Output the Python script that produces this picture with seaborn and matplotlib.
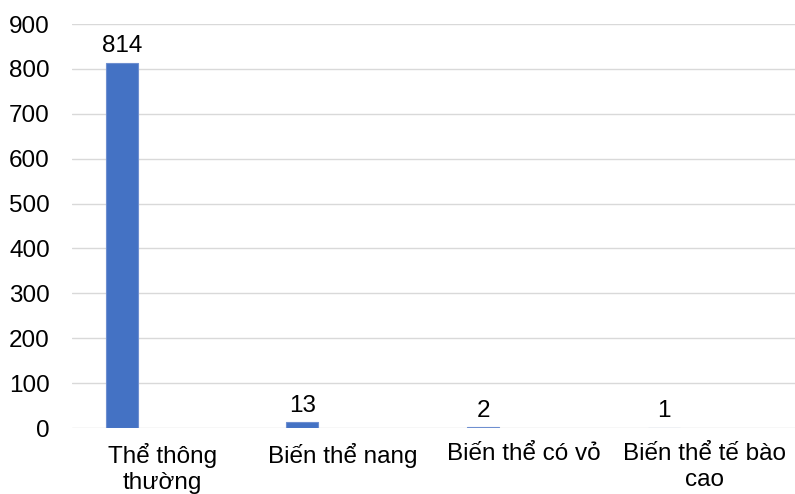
import matplotlib
matplotlib.use("Agg")
import matplotlib.pyplot as plt
import seaborn as sns
import pandas as pd
import numpy as np

categories = ["Thể thông\nthường", "Biến thể nang", "Biến thể có vỏ", "Biến thể tế bào\ncao"]
counts = [814, 13, 2, 1]
series = ["Số ca", " "]
y_ticks = [0, 100, 200, 300, 400, 500, 600, 700, 800, 900]

sns.set_theme(style="white")
plt.rcParams["font.family"] = ["Liberation Sans", "DejaVu Sans"]

df = pd.DataFrame({
    "cat": categories * 2,
    "series": [series[0]] * len(categories) + [series[1]] * len(categories),
    "value": counts + [np.nan] * len(categories),
})

fig = plt.figure(figsize=(7.95, 4.94), dpi=100)
ax = fig.add_axes([0.0906, 0.1336, 0.9094, 0.8178])

sns.barplot(data=df, x="cat", y="value", hue="series", hue_order=series,
            order=categories, palette=["#4472C4", "#4472C4"], width=0.9, gap=0.607,
            legend=False, ax=ax, errorbar=None, saturation=1,
            edgecolor="#6E8FD0", linewidth=0.8)

for c in ax.containers:
    labels = ["" if np.isnan(v) else f"{int(v)}" for v in c.datavalues]
    ax.bar_label(c, labels=labels, padding=4, fontsize=17.5, color="#000000")

ax.set_ylim(0, 900)
ax.set_yticks(y_ticks)
ax.set_xlim(-0.5, len(categories) - 0.5)
ax.yaxis.grid(True, color="#D9D9D9", linewidth=1)
ax.set_axisbelow(True)
for s in ax.spines.values():
    s.set_visible(False)
ax.tick_params(axis="both", length=0, labelsize=17.5, colors="#000000")
ax.tick_params(axis="y", pad=16)
ax.tick_params(axis="x", pad=11)
ax.set_xlabel("")
ax.set_ylabel("")

fig.savefig("out.png", dpi=100)
